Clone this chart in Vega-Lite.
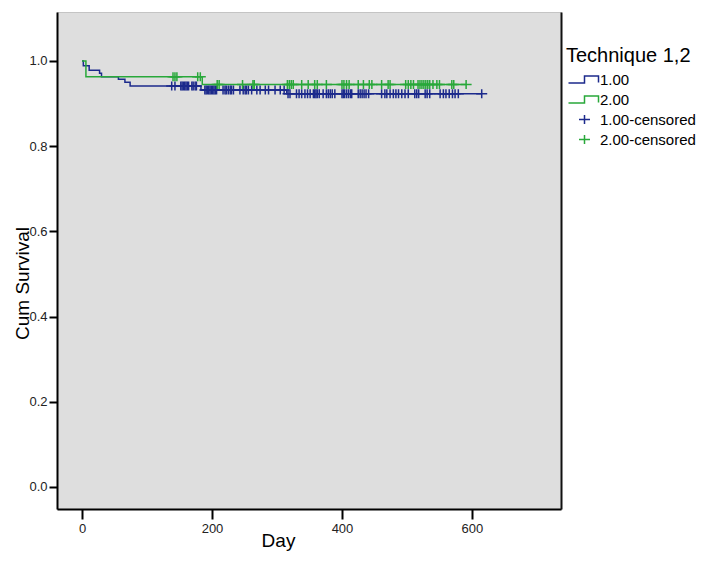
{
  "$schema": "https://vega.github.io/schema/vega-lite/v6.json",
  "autosize": {"type": "none"},
  "padding": {"left": 57, "top": 12, "right": 153, "bottom": 53},
  "width": 504,
  "height": 497,
  "background": "white",
  "config": {
    "font": "Liberation Sans",
    "view": {"fill": "#dedede", "stroke": "#c4c4c4", "strokeWidth": 1}
  },
  "datasets": {
    "curves": [
      {"day": 0, "surv": 1.0, "series": "1.00"},
      {"day": 2, "surv": 0.989, "series": "1.00"},
      {"day": 11, "surv": 0.978, "series": "1.00"},
      {"day": 27, "surv": 0.971, "series": "1.00"},
      {"day": 30, "surv": 0.963, "series": "1.00"},
      {"day": 56, "surv": 0.957, "series": "1.00"},
      {"day": 66, "surv": 0.95, "series": "1.00"},
      {"day": 74, "surv": 0.941, "series": "1.00"},
      {"day": 183, "surv": 0.932, "series": "1.00"},
      {"day": 315, "surv": 0.923, "series": "1.00"},
      {"day": 615, "surv": 0.923, "series": "1.00"},
      {"day": 0, "surv": 1.0, "series": "2.00"},
      {"day": 6, "surv": 0.963, "series": "2.00"},
      {"day": 185, "surv": 0.945, "series": "2.00"},
      {"day": 591, "surv": 0.945, "series": "2.00"}
    ],
    "censored": [
      {"day": 138, "surv": 0.941, "series": "1.00-censored"},
      {"day": 143, "surv": 0.941, "series": "1.00-censored"},
      {"day": 152, "surv": 0.941, "series": "1.00-censored"},
      {"day": 154, "surv": 0.941, "series": "1.00-censored"},
      {"day": 156, "surv": 0.941, "series": "1.00-censored"},
      {"day": 158, "surv": 0.941, "series": "1.00-censored"},
      {"day": 160, "surv": 0.941, "series": "1.00-censored"},
      {"day": 162, "surv": 0.941, "series": "1.00-censored"},
      {"day": 164, "surv": 0.941, "series": "1.00-censored"},
      {"day": 169, "surv": 0.941, "series": "1.00-censored"},
      {"day": 171, "surv": 0.941, "series": "1.00-censored"},
      {"day": 174, "surv": 0.941, "series": "1.00-censored"},
      {"day": 176, "surv": 0.941, "series": "1.00-censored"},
      {"day": 189, "surv": 0.932, "series": "1.00-censored"},
      {"day": 191, "surv": 0.932, "series": "1.00-censored"},
      {"day": 193, "surv": 0.932, "series": "1.00-censored"},
      {"day": 195, "surv": 0.932, "series": "1.00-censored"},
      {"day": 197, "surv": 0.932, "series": "1.00-censored"},
      {"day": 199, "surv": 0.932, "series": "1.00-censored"},
      {"day": 201, "surv": 0.932, "series": "1.00-censored"},
      {"day": 203, "surv": 0.932, "series": "1.00-censored"},
      {"day": 205, "surv": 0.932, "series": "1.00-censored"},
      {"day": 207, "surv": 0.932, "series": "1.00-censored"},
      {"day": 217, "surv": 0.932, "series": "1.00-censored"},
      {"day": 220, "surv": 0.932, "series": "1.00-censored"},
      {"day": 222, "surv": 0.932, "series": "1.00-censored"},
      {"day": 225, "surv": 0.932, "series": "1.00-censored"},
      {"day": 228, "surv": 0.932, "series": "1.00-censored"},
      {"day": 230, "surv": 0.932, "series": "1.00-censored"},
      {"day": 233, "surv": 0.932, "series": "1.00-censored"},
      {"day": 243, "surv": 0.932, "series": "1.00-censored"},
      {"day": 248, "surv": 0.932, "series": "1.00-censored"},
      {"day": 251, "surv": 0.932, "series": "1.00-censored"},
      {"day": 253, "surv": 0.932, "series": "1.00-censored"},
      {"day": 256, "surv": 0.932, "series": "1.00-censored"},
      {"day": 261, "surv": 0.932, "series": "1.00-censored"},
      {"day": 269, "surv": 0.932, "series": "1.00-censored"},
      {"day": 274, "surv": 0.932, "series": "1.00-censored"},
      {"day": 282, "surv": 0.932, "series": "1.00-censored"},
      {"day": 287, "surv": 0.932, "series": "1.00-censored"},
      {"day": 297, "surv": 0.932, "series": "1.00-censored"},
      {"day": 305, "surv": 0.932, "series": "1.00-censored"},
      {"day": 311, "surv": 0.932, "series": "1.00-censored"},
      {"day": 317, "surv": 0.923, "series": "1.00-censored"},
      {"day": 320, "surv": 0.923, "series": "1.00-censored"},
      {"day": 330, "surv": 0.923, "series": "1.00-censored"},
      {"day": 334, "surv": 0.923, "series": "1.00-censored"},
      {"day": 338, "surv": 0.923, "series": "1.00-censored"},
      {"day": 343, "surv": 0.923, "series": "1.00-censored"},
      {"day": 347, "surv": 0.923, "series": "1.00-censored"},
      {"day": 351, "surv": 0.923, "series": "1.00-censored"},
      {"day": 356, "surv": 0.923, "series": "1.00-censored"},
      {"day": 358, "surv": 0.923, "series": "1.00-censored"},
      {"day": 360, "surv": 0.923, "series": "1.00-censored"},
      {"day": 362, "surv": 0.923, "series": "1.00-censored"},
      {"day": 365, "surv": 0.923, "series": "1.00-censored"},
      {"day": 371, "surv": 0.923, "series": "1.00-censored"},
      {"day": 376, "surv": 0.923, "series": "1.00-censored"},
      {"day": 379, "surv": 0.923, "series": "1.00-censored"},
      {"day": 382, "surv": 0.923, "series": "1.00-censored"},
      {"day": 385, "surv": 0.923, "series": "1.00-censored"},
      {"day": 389, "surv": 0.923, "series": "1.00-censored"},
      {"day": 400, "surv": 0.923, "series": "1.00-censored"},
      {"day": 402, "surv": 0.923, "series": "1.00-censored"},
      {"day": 404, "surv": 0.923, "series": "1.00-censored"},
      {"day": 407, "surv": 0.923, "series": "1.00-censored"},
      {"day": 410, "surv": 0.923, "series": "1.00-censored"},
      {"day": 413, "surv": 0.923, "series": "1.00-censored"},
      {"day": 415, "surv": 0.923, "series": "1.00-censored"},
      {"day": 425, "surv": 0.923, "series": "1.00-censored"},
      {"day": 428, "surv": 0.923, "series": "1.00-censored"},
      {"day": 431, "surv": 0.923, "series": "1.00-censored"},
      {"day": 434, "surv": 0.923, "series": "1.00-censored"},
      {"day": 437, "surv": 0.923, "series": "1.00-censored"},
      {"day": 441, "surv": 0.923, "series": "1.00-censored"},
      {"day": 461, "surv": 0.923, "series": "1.00-censored"},
      {"day": 466, "surv": 0.923, "series": "1.00-censored"},
      {"day": 469, "surv": 0.923, "series": "1.00-censored"},
      {"day": 474, "surv": 0.923, "series": "1.00-censored"},
      {"day": 479, "surv": 0.923, "series": "1.00-censored"},
      {"day": 483, "surv": 0.923, "series": "1.00-censored"},
      {"day": 487, "surv": 0.923, "series": "1.00-censored"},
      {"day": 492, "surv": 0.923, "series": "1.00-censored"},
      {"day": 497, "surv": 0.923, "series": "1.00-censored"},
      {"day": 502, "surv": 0.923, "series": "1.00-censored"},
      {"day": 512, "surv": 0.923, "series": "1.00-censored"},
      {"day": 515, "surv": 0.923, "series": "1.00-censored"},
      {"day": 518, "surv": 0.923, "series": "1.00-censored"},
      {"day": 528, "surv": 0.923, "series": "1.00-censored"},
      {"day": 531, "surv": 0.923, "series": "1.00-censored"},
      {"day": 535, "surv": 0.923, "series": "1.00-censored"},
      {"day": 551, "surv": 0.923, "series": "1.00-censored"},
      {"day": 556, "surv": 0.923, "series": "1.00-censored"},
      {"day": 560, "surv": 0.923, "series": "1.00-censored"},
      {"day": 565, "surv": 0.923, "series": "1.00-censored"},
      {"day": 570, "surv": 0.923, "series": "1.00-censored"},
      {"day": 574, "surv": 0.923, "series": "1.00-censored"},
      {"day": 579, "surv": 0.923, "series": "1.00-censored"},
      {"day": 615, "surv": 0.923, "series": "1.00-censored"},
      {"day": 140, "surv": 0.963, "series": "2.00-censored"},
      {"day": 143, "surv": 0.963, "series": "2.00-censored"},
      {"day": 146, "surv": 0.963, "series": "2.00-censored"},
      {"day": 178, "surv": 0.963, "series": "2.00-censored"},
      {"day": 182, "surv": 0.963, "series": "2.00-censored"},
      {"day": 208, "surv": 0.945, "series": "2.00-censored"},
      {"day": 211, "surv": 0.945, "series": "2.00-censored"},
      {"day": 247, "surv": 0.945, "series": "2.00-censored"},
      {"day": 263, "surv": 0.945, "series": "2.00-censored"},
      {"day": 265, "surv": 0.945, "series": "2.00-censored"},
      {"day": 316, "surv": 0.945, "series": "2.00-censored"},
      {"day": 319, "surv": 0.945, "series": "2.00-censored"},
      {"day": 322, "surv": 0.945, "series": "2.00-censored"},
      {"day": 325, "surv": 0.945, "series": "2.00-censored"},
      {"day": 338, "surv": 0.945, "series": "2.00-censored"},
      {"day": 348, "surv": 0.945, "series": "2.00-censored"},
      {"day": 358, "surv": 0.945, "series": "2.00-censored"},
      {"day": 362, "surv": 0.945, "series": "2.00-censored"},
      {"day": 376, "surv": 0.945, "series": "2.00-censored"},
      {"day": 400, "surv": 0.945, "series": "2.00-censored"},
      {"day": 403, "surv": 0.945, "series": "2.00-censored"},
      {"day": 407, "surv": 0.945, "series": "2.00-censored"},
      {"day": 411, "surv": 0.945, "series": "2.00-censored"},
      {"day": 425, "surv": 0.945, "series": "2.00-censored"},
      {"day": 433, "surv": 0.945, "series": "2.00-censored"},
      {"day": 442, "surv": 0.945, "series": "2.00-censored"},
      {"day": 446, "surv": 0.945, "series": "2.00-censored"},
      {"day": 461, "surv": 0.945, "series": "2.00-censored"},
      {"day": 471, "surv": 0.945, "series": "2.00-censored"},
      {"day": 474, "surv": 0.945, "series": "2.00-censored"},
      {"day": 498, "surv": 0.945, "series": "2.00-censored"},
      {"day": 502, "surv": 0.945, "series": "2.00-censored"},
      {"day": 506, "surv": 0.945, "series": "2.00-censored"},
      {"day": 510, "surv": 0.945, "series": "2.00-censored"},
      {"day": 517, "surv": 0.945, "series": "2.00-censored"},
      {"day": 520, "surv": 0.945, "series": "2.00-censored"},
      {"day": 523, "surv": 0.945, "series": "2.00-censored"},
      {"day": 526, "surv": 0.945, "series": "2.00-censored"},
      {"day": 529, "surv": 0.945, "series": "2.00-censored"},
      {"day": 532, "surv": 0.945, "series": "2.00-censored"},
      {"day": 535, "surv": 0.945, "series": "2.00-censored"},
      {"day": 540, "surv": 0.945, "series": "2.00-censored"},
      {"day": 546, "surv": 0.945, "series": "2.00-censored"},
      {"day": 550, "surv": 0.945, "series": "2.00-censored"},
      {"day": 569, "surv": 0.945, "series": "2.00-censored"},
      {"day": 572, "surv": 0.945, "series": "2.00-censored"},
      {"day": 591, "surv": 0.945, "series": "2.00-censored"}
    ]
  },
  "resolve": {"axis": {"y": "independent"}},
  "layer": [
    {
      "data": {"name": "curves"},
      "mark": {"type": "line", "interpolate": "step-after", "strokeWidth": 1.5},
      "encoding": {
        "x": {
          "field": "day", "type": "quantitative",
          "scale": {"domain": [-38.5, 737], "nice": false, "zero": false},
          "axis": {
            "title": "Day", "values": [0, 200, 400, 600], "grid": false,
            "domainColor": "black", "domainWidth": 2,
            "tickColor": "black", "tickWidth": 2, "tickSize": 10,
            "labelFont": "Liberation Sans", "labelFontSize": 13, "labelColor": "#222", "labelPadding": 3,
            "titleFont": "Liberation Sans", "titleFontSize": 19, "titleFontWeight": "normal", "titleColor": "black",
            "titleX": 221, "titleY": 37, "titleBaseline": "alphabetic", "titleAlign": "center", "titleAnchor": null
          }
        },
        "y": {
          "field": "surv", "type": "quantitative",
          "scale": {"domain": [-0.052, 1.115], "nice": false, "zero": false},
          "axis": {
            "title": "Cum Survival", "values": [0, 0.2, 0.4, 0.6, 0.8, 1.0], "format": ".1f", "grid": false,
            "domainColor": "black", "domainWidth": 2,
            "tickColor": "black", "tickWidth": 2, "tickSize": 8,
            "labelFont": "Liberation Sans", "labelFontSize": 13, "labelColor": "#222", "labelPadding": 2,
            "titleFont": "Liberation Sans", "titleFontSize": 19, "titleFontWeight": "normal", "titleColor": "black",
            "titleX": -29, "titleY": 271, "titleBaseline": "alphabetic", "titleAlign": "center", "titleAngle": -90, "titleAnchor": null
          }
        },
        "color": {
          "field": "series", "type": "nominal",
          "scale": {
            "domain": ["1.00", "2.00", "1.00-censored", "2.00-censored"],
            "range": ["#1c2a8c", "#28a83a", "#1c2a8c", "#28a83a"]
          },
          "legend": {
            "title": "Technique 1,2",
            "orient": "none", "legendX": 509, "legendY": 34,
            "titleFont": "Liberation Sans", "titleFontSize": 20, "titleFontWeight": "normal", "titleColor": "black",
            "titlePadding": 6,
            "labelFont": "Liberation Sans", "labelFontSize": 15, "labelColor": "black",
            "labelExpr": "indexof(datum.label, 'censored') > 0 ? '\u00a0' + datum.label : datum.label",
            "symbolSize": 100, "symbolStrokeWidth": 1.5, "symbolOffset": 11, "labelOffset": 8,
            "rowPadding": 4, "padding": 0
          }
        },
        "detail": {"field": "series"}
      }
    },
    {
      "data": {"name": "censored"},
      "mark": {"type": "point", "filled": false, "strokeWidth": 1.5, "opacity": 1, "size": 100},
      "encoding": {
        "x": {"field": "day", "type": "quantitative"},
        "y": {
          "field": "surv", "type": "quantitative",
          "axis": {"orient": "right", "labels": false, "ticks": false, "title": null, "grid": false, "domainColor": "#111", "domainWidth": 2}
        },
        "color": {"field": "series", "type": "nominal"},
        "shape": {
          "field": "series", "type": "nominal",
          "scale": {
            "domain": ["1.00", "2.00", "1.00-censored", "2.00-censored"],
            "range": ["M-3.2,0.7H0H0V-0.7H2.8V0.6", "M-3.2,0.7H0H0V-0.7H2.8V0.6", "M-1.1,0H1.1M0,-0.9V0.9", "M-1.1,0H1.1M0,-0.9V0.9"]
          },
          "legend": {"title": "Technique 1,2"}
        }
      }
    }
  ]
}
